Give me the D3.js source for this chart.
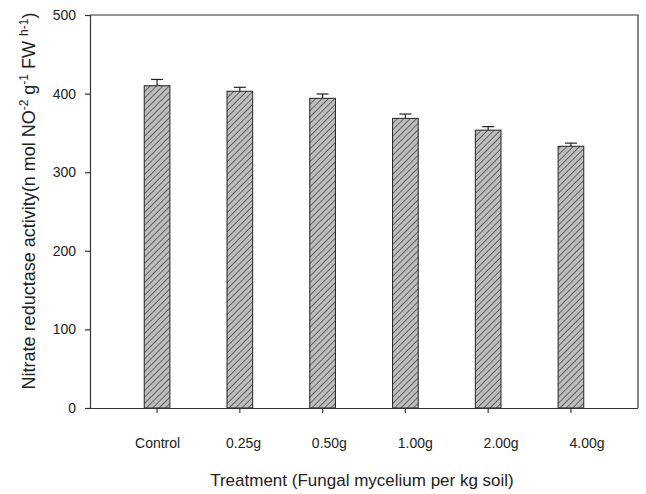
<!DOCTYPE html>
<html>
<head>
<meta charset="utf-8">
<script src="https://cdn.jsdelivr.net/npm/d3@7"></script>
<style>
  html, body { margin: 0; padding: 0; background: #fff; }
  svg { display: block; }
  text { font-family: "Liberation Sans", Arial, sans-serif; fill: #222; }
</style>
</head>
<body>
<svg id="chart" width="646" height="494"></svg>
<script>
const categories = ["Control", "0.25g", "0.50g", "1.00g", "2.00g", "4.00g"];
const values = [410, 403, 394, 368.5, 353.5, 333];
const errors = [8, 5, 5.5, 5.5, 4.5, 4];
const yTicks = [0, 100, 200, 300, 400, 500];

(function () {
const svg = d3.select("#chart");
const pLeft = 90, pRight = 638, pTop = 15, pBottom = 408;

const x = d3.scaleBand().domain(categories).range([pLeft, pRight])
  .paddingInner(0.69).paddingOuter(0.655);
const xLab = d3.scalePoint().domain(categories).range([157.6, 587]);
const y = d3.scaleLinear().domain([0, 500]).range([pBottom, pTop]);

const defs = svg.append("defs");
const pat = defs.append("pattern").attr("id", "hatch")
  .attr("patternUnits", "userSpaceOnUse").attr("width", 4.5).attr("height", 4.5)
  .attr("patternTransform", "rotate(45)");
pat.append("rect").attr("width", 4.5).attr("height", 4.5).attr("fill", "#bdbdbd");
pat.append("line").attr("x1", 0).attr("y1", 0).attr("x2", 0).attr("y2", 4.5)
  .attr("stroke", "#333").attr("stroke-width", 1.3);

// bars
svg.append("g").selectAll("rect").data(categories).join("rect")
  .attr("x", d => x(d)).attr("width", x.bandwidth())
  .attr("y", (d, i) => y(values[i])).attr("height", (d, i) => y(0) - y(values[i]))
  .attr("fill", "url(#hatch)").attr("stroke", "#222").attr("stroke-width", 1);

// error bars (upper only)
const eg = svg.append("g").attr("stroke", "#222").attr("stroke-width", 1.2);
categories.forEach((c, i) => {
  const cx = x(c) + x.bandwidth() / 2;
  eg.append("line").attr("x1", cx).attr("x2", cx)
    .attr("y1", y(values[i])).attr("y2", y(values[i] + errors[i]));
  eg.append("line").attr("x1", cx - 6).attr("x2", cx + 6)
    .attr("y1", y(values[i] + errors[i])).attr("y2", y(values[i] + errors[i]));
});

// frame
svg.append("path")
  .attr("d", `M${pLeft},${pTop}H${pRight}V${pBottom}`)
  .attr("fill", "none").attr("stroke", "#333").attr("stroke-width", 1.2);

// y axis
const ya = svg.append("g").attr("transform", `translate(${pLeft},0)`)
  .call(d3.axisLeft(y).tickValues(yTicks).tickSize(5).tickPadding(9));
ya.select(".domain").attr("stroke", "#333").attr("stroke-width", 1.2);
ya.selectAll(".tick line").attr("stroke", "#333").attr("stroke-width", 1.2);
ya.selectAll(".tick text").style("font-size", "14px")
  .style("font-family", "Liberation Sans, Arial, sans-serif").attr("fill", "#222");

// x axis
const xa = svg.append("g").attr("transform", `translate(0,${pBottom})`)
  .call(d3.axisBottom(x).tickSize(5).tickSizeOuter(0).tickPadding(25));
xa.select(".domain").attr("d", `M${pLeft - 5},0.5H${pRight}`).attr("stroke", "#333").attr("stroke-width", 1.2);
xa.selectAll(".tick line").attr("stroke", "#333").attr("stroke-width", 1.2);
xa.selectAll(".tick text").style("font-size", "14px")
  .style("font-family", "Liberation Sans, Arial, sans-serif").attr("fill", "#222")
  .attr("x", d => xLab(d) - (x(d) + x.bandwidth() / 2));

// x title
svg.append("text").attr("x", 362).attr("y", 486).attr("text-anchor", "middle")
  .style("font-size", "17px").text("Treatment (Fungal mycelium per kg soil)");

// y title
const yt = svg.append("text").attr("transform", "translate(35,201) rotate(-90)")
  .attr("text-anchor", "middle").style("font-size", "18px");
yt.append("tspan").text("Nitrate reductase activity(n mol NO");
yt.append("tspan").attr("dy", -7).style("font-size", "12px").text("-2");
yt.append("tspan").attr("dy", 7).text(" g");
yt.append("tspan").attr("dy", -7).style("font-size", "12px").text("-1");
yt.append("tspan").attr("dy", 7).text(" FW ");
yt.append("tspan").attr("dy", -7).style("font-size", "12px").text("h-1");
yt.append("tspan").attr("dy", 7).text(")");
})();
</script>
</body>
</html>
